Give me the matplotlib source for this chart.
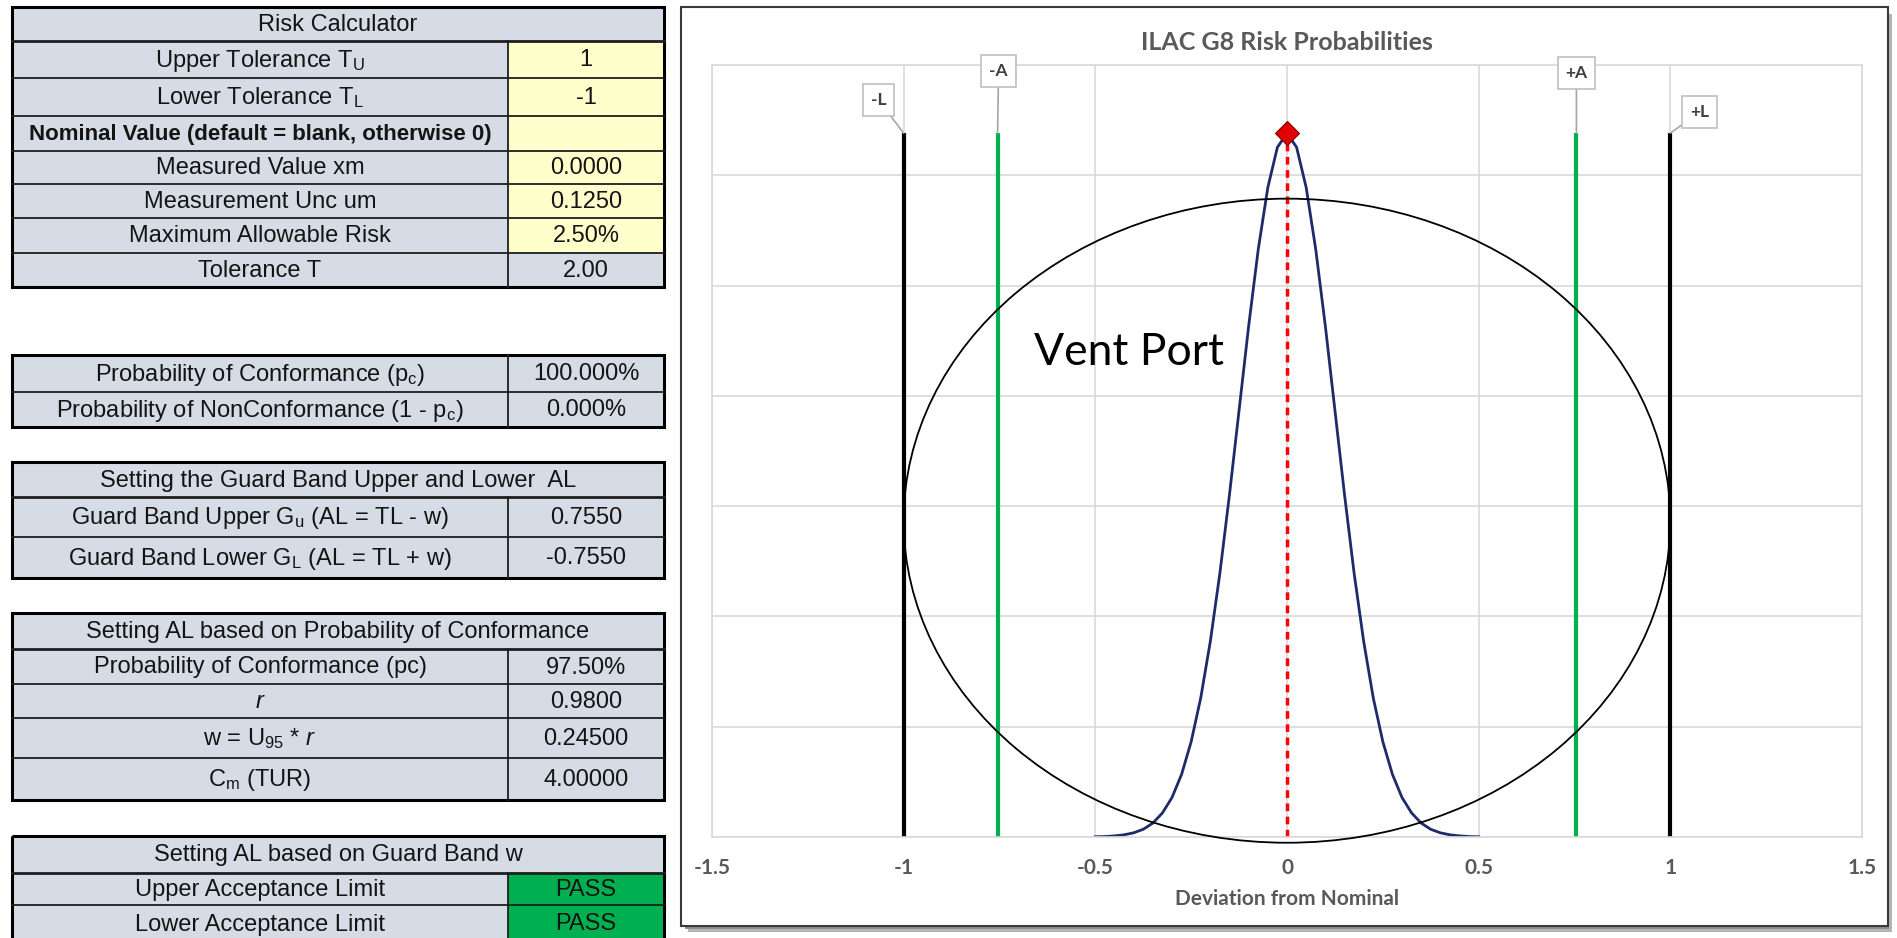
import matplotlib
matplotlib.use('Agg')
import matplotlib.pyplot as plt
from matplotlib import font_manager
from matplotlib.patches import Rectangle, Ellipse

# ---- chart data ----
dev_x = [-0.5, -0.475, -0.45, -0.425, -0.4, -0.375, -0.35, -0.325, -0.3, -0.275,
         -0.25, -0.225, -0.2, -0.175, -0.15, -0.125, -0.1, -0.075, -0.05, -0.025,
         0.0, 0.025, 0.05, 0.075, 0.1, 0.125, 0.15, 0.175, 0.2, 0.225,
         0.25, 0.275, 0.3, 0.325, 0.35, 0.375, 0.4, 0.425, 0.45, 0.475, 0.5]
dev_y = [0.001, 0.002, 0.005, 0.010, 0.019, 0.035, 0.063, 0.109, 0.179, 0.284,
         0.432, 0.631, 0.887, 1.197, 1.553, 1.935, 2.317, 2.664, 2.945, 3.127,
         3.191, 3.127, 2.945, 2.664, 2.317, 1.935, 1.553, 1.197, 0.887, 0.631,
         0.432, 0.284, 0.179, 0.109, 0.063, 0.035, 0.019, 0.010, 0.005, 0.002, 0.001]
tol_x = [-1, 1]
tol_labels = ['-L', '+L']
acc_x = [-0.755, 0.755]
acc_labels = ['-A', '+A']
measured_x = 0.0
xticks = [-1.5, -1, -0.5, 0, 0.5, 1, 1.5]
xtick_labels = ['-1.5', '-1', '-0.5', '0', '0.5', '1', '1.5']
yticks = [0, 0.5, 1, 1.5, 2, 2.5, 3, 3.5]

# ---- spreadsheet tables ----
t1_title = 'Risk Calculator'
t1_labels = ['Upper Tolerance T$_\\mathregular{U}$', 'Lower Tolerance T$_\\mathregular{L}$',
             'Nominal Value (default = blank, otherwise 0)', 'Measured Value xm',
             'Measurement Unc um', 'Maximum Allowable Risk', 'Tolerance T']
t1_values = ['1', '-1', '', '0.0000', '0.1250', '2.50%', '2.00']

t2_labels = ['Probability of Conformance (p$_\\mathregular{c}$)',
             'Probability of NonConformance (1 - p$_\\mathregular{c}$)']
t2_values = ['100.000%', '0.000%']

t3_title = 'Setting the Guard Band Upper and Lower  AL'
t3_labels = ['Guard Band Upper G$_\\mathregular{u}$ (AL = TL - w)',
             'Guard Band Lower G$_\\mathregular{L}$ (AL = TL + w)']
t3_values = ['0.7550', '-0.7550']

t4_title = 'Setting AL based on Probability of Conformance'
t4_labels = ['Probability of Conformance (pc)', '$\\mathit{r}$',
             'w = U$_\\mathregular{95}$ * $\\mathit{r}$', 'C$_\\mathregular{m}$ (TUR)']
t4_values = ['97.50%', '0.9800', '0.24500', '4.00000']

t5_title = 'Setting AL based on Guard Band w'
t5_labels = ['Upper Acceptance Limit', 'Lower Acceptance Limit']
t5_values = ['PASS', 'PASS']

names = {f.name for f in font_manager.fontManager.ttflist}
if 'Liberation Sans Narrow' in names:
    tfont, tsize, bsize = 'Liberation Sans Narrow', 20, 19
else:
    tfont, tsize, bsize = 'Liberation Sans', 17, 16
cfont = 'Lato' if 'Lato' in names else 'DejaVu Sans'

plt.rcParams['mathtext.fontset'] = 'custom'
plt.rcParams['mathtext.rm'] = tfont
plt.rcParams['mathtext.it'] = tfont + ':italic'

W, H = 1897, 938
GRAY = '#D6DCE5'
YEL = '#FFFFCC'
GRN = '#00B050'

fig = plt.figure(figsize=(W / 100, H / 100), dpi=100)
bg = fig.add_axes([0, 0, 1, 1])
bg.set_xlim(0, W)
bg.set_ylim(H, 0)
bg.axis('off')
bg.set_zorder(0)

X0, XS, X1 = 12, 508, 664


def table(edges, title, labels, values, fills, bold=()):
    i = 0
    if title:
        bg.add_patch(Rectangle((X0, edges[0]), X1 - X0, edges[1] - edges[0], fc=GRAY, ec='none'))
        bg.text((X0 + X1) / 2, (edges[0] + edges[1]) / 2 + 1, title, ha='center', va='center',
                family=tfont, fontsize=tsize, color='#141414')
        i = 1
    for k, (lab, val, fc) in enumerate(zip(labels, values, fills)):
        ya, yb = edges[i + k], edges[i + k + 1]
        bg.add_patch(Rectangle((X0, ya), XS - X0, yb - ya, fc=GRAY, ec='none'))
        bg.add_patch(Rectangle((XS, ya), X1 - XS, yb - ya, fc=fc, ec='none'))
        bg.text((X0 + XS) / 2, (ya + yb) / 2 + 1, lab, ha='center', va='center', family=tfont,
                fontsize=bsize if k in bold else tsize, color='#141414',
                fontweight='bold' if k in bold else 'normal')
        bg.text((XS + X1) / 2, (ya + yb) / 2 + 1, val, ha='center', va='center', family=tfont,
                fontsize=tsize, color='#141414')
    for yy in edges[1:-1]:
        bg.plot([X0, X1], [yy, yy], color='#1E1E1E', lw=1.3 if yy != edges[1] or not title else 2)
    bg.plot([XS, XS], [edges[i], edges[-1]], color='#1E1E1E', lw=1.3)
    bg.add_patch(Rectangle((X0, edges[0]), X1 - X0, edges[-1] - edges[0], fill=False,
                           ec='#000000', lw=2.2))


table([7, 41, 78, 116, 151, 184, 218, 253, 287], t1_title, t1_labels, t1_values,
      [YEL] * 6 + [GRAY], bold=(2,))
table([355, 392, 427], None, t2_labels, t2_values, [GRAY] * 2)
table([462, 497, 537, 578], t3_title, t3_labels, t3_values, [GRAY] * 2)
table([613, 649, 684, 718, 758, 800], t4_title, t4_labels, t4_values, [GRAY] * 4)
table([836, 873, 905, 942], t5_title, t5_labels, t5_values, [GRN] * 2)

# chart frame with shadow
bg.add_patch(Rectangle((688, 14), 1204, 918, fc='#B4B4B4', ec='none'))
bg.add_patch(Rectangle((685, 11), 1204, 918, fc='#8C8C8C', ec='none'))
bg.add_patch(Rectangle((681, 7), 1207, 919, fc='white', ec='#3A3A3A', lw=1.5))

# ---- chart ----
ax = fig.add_axes([712 / W, 1 - 837 / H, 1150 / W, 772 / H])
ax.set_zorder(2)
ax.set_facecolor('white')
ax.set_xlim(-1.5, 1.5)
ax.set_ylim(0, 3.5)
ax.set_xticks(xticks, xtick_labels)
ax.set_yticks(yticks)
ax.grid(color='#D9D9D9', lw=1.2)
ax.set_axisbelow(True)
for s in ax.spines.values():
    s.set_color('#D9D9D9')
    s.set_linewidth(1.2)
ax.tick_params(length=0, labelleft=False, labelsize=15, labelcolor='#595959', pad=15)
for lab in ax.get_xticklabels():
    lab.set_fontweight('bold')
    lab.set_family(cfont)

peak = max(dev_y)
ax.plot(dev_x, dev_y, color='#1F2A6B', lw=2)

offsets = {'-L': (-25, 33), '+L': (29, 21), '-A': (1, 62), '+A': (0, 60)}
for xs, labs, col in [(tol_x, tol_labels, 'black'), (acc_x, acc_labels, GRN)]:
    for x, lab in zip(xs, labs):
        ax.plot([x, x], [0, peak], color=col, lw=3, solid_capstyle='butt')
        ax.annotate(lab, xy=(x, peak), xytext=offsets[lab], textcoords='offset pixels',
                    ha='center', va='center', fontsize=12.5, fontweight='bold', family=cfont,
                    color='#404040', annotation_clip=False,
                    bbox=dict(boxstyle='square,pad=0.45', fc='white', ec='#BFBFBF', lw=1.2),
                    arrowprops=dict(arrowstyle='-', color='#A6A6A6', lw=1.2, shrinkA=0, shrinkB=0))

ax.plot([measured_x, measured_x], [0, peak], color='#FF0000', lw=2.5, ls=(0, (2.2, 1.6)))
ax.plot([measured_x], [peak], marker='D', ms=12, color='#E00000', mec='#800000', mew=0.8,
        zorder=5)

ax.add_patch(Ellipse((0, 1.434), 2.0, 2.92, fill=False, ec='black', lw=1.3, clip_on=False,
                     zorder=4))
ax.text(-0.413, 2.14, 'Vent Port', ha='center', va='baseline', fontsize=32, family=cfont,
        color='black')

ax.set_xlabel('Deviation from Nominal', fontsize=15, fontweight='bold', color='#595959',
              family=cfont, labelpad=8)
fig.text((712 + 1862) / 2 / W, 1 - 49.5 / H, 'ILAC G8 Risk Probabilities', ha='center',
         va='baseline', fontsize=18, fontweight='bold', color='#595959', family=cfont, zorder=3)

fig.savefig('out.png', dpi=100)
